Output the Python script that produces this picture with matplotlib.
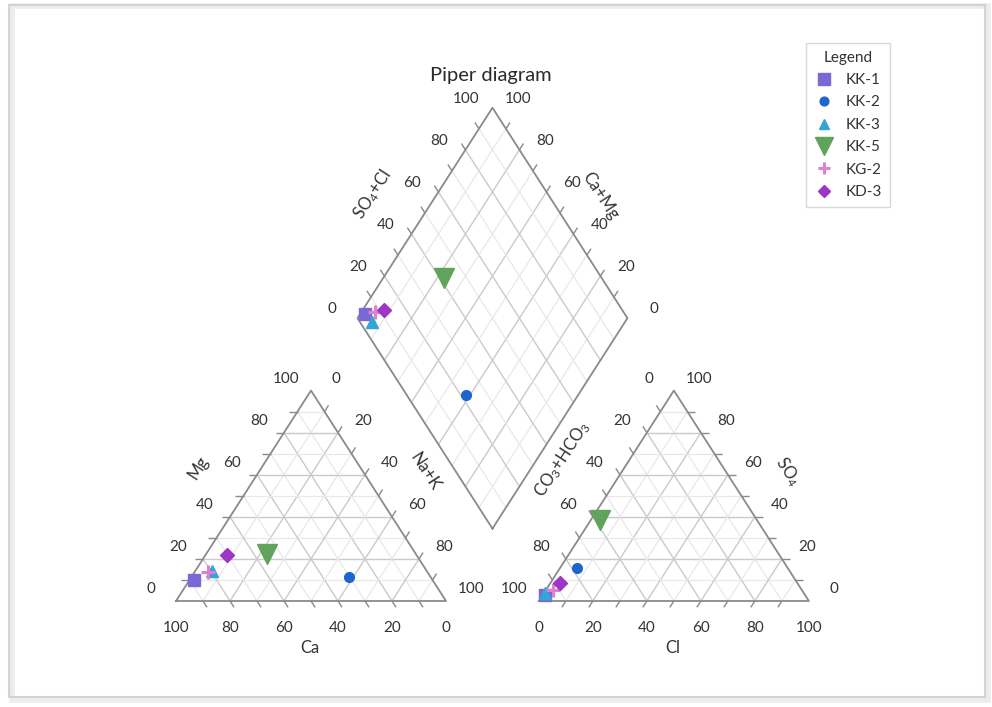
import numpy as np
import matplotlib
matplotlib.use('Agg')
import matplotlib.pyplot as plt
from matplotlib.patches import Rectangle

plt.rcParams['font.family'] = ['Lato', 'DejaVu Sans']
plt.rcParams['mathtext.fontset'] = 'custom'
plt.rcParams['mathtext.rm'] = 'Lato'
plt.rcParams['mathtext.it'] = 'Lato:italic'

# samples (percent of meq)
names = ['KK-1', 'KK-2', 'KK-3', 'KK-5', 'KG-2', 'KD-3']
ca = [88.3, 30.2, 79.6, 55.1, 81.3, 70.2]
mg = [10.0, 11.4, 14.2, 22.3, 13.7, 21.8]
nak = [1.7, 58.4, 6.2, 22.6, 5.0, 8.0]
hco3 = [96.4, 78.1, 95.7, 58.2, 92.2, 88.0]
so4 = [2.8, 15.6, 4.0, 38.4, 5.2, 8.5]
cl = [0.8, 6.3, 0.3, 3.4, 2.6, 3.5]

markers = ['s', 'o', '^', 'v', '+', 'D']
colors = ['#7B68D6', '#1F66CC', '#33A6D6', '#5FA35C', '#E07FD0', '#9E35C4']
sizes = [9, 7, 8, 14, 10, 7]

tick_vals = [0, 20, 40, 60, 80, 100]

H = np.sqrt(3) / 2
GAP = 0.344
BX, BY = 1 + GAP / 2, GAP * H
PXX, PXY = 270.0, 243.0  # pixels per unit


def cat_xy(n, m):
    n, m = np.asarray(n) / 100, np.asarray(m) / 100
    return n + 0.5 * m, H * m


def an_xy(c, s):
    c, s = np.asarray(c) / 100, np.asarray(s) / 100
    return 1 + GAP + c + 0.5 * s, H * s


def dia_xy(cm, sc):
    cm, sc = np.asarray(cm) / 100, np.asarray(sc) / 100
    return BX + 0.5 * (sc - cm), BY + H * (cm + sc)


def px(x, y):
    return (x - 176) / PXX, (601 - y) / PXY


fig = plt.figure(figsize=(9.92, 7.07), dpi=100)
ax = fig.add_axes([0, 0, 1, 1])
ax.set_xlim(-176 / PXX, (992 - 176) / PXX)
ax.set_ylim(-(707 - 601) / PXY, 601 / PXY)
ax.axis('off')

edge_c = '#8A8A8A'
grid_major = '#CACACA'
grid_minor = '#E8E8E8'
lab_c = '#333333'


def seg(p0, p1, **kw):
    ax.plot([p0[0], p1[0]], [p0[1], p1[1]], solid_capstyle='butt', **kw)


def grid_style(v):
    if v % 20 == 0:
        return dict(color=grid_major, lw=1.0, zorder=1)
    return dict(color=grid_minor, lw=0.9, zorder=1)


TL = 0.03
for v in range(10, 100, 10):
    st = grid_style(v)
    # cation triangle
    seg(cat_xy(0, v), cat_xy(100 - v, v), **st)
    seg(cat_xy(v, 0), cat_xy(v, 100 - v), **st)
    seg(cat_xy(100 - v, 0), cat_xy(0, 100 - v), **st)
    # anion triangle
    seg(an_xy(0, v), an_xy(100 - v, v), **st)
    seg(an_xy(v, 0), an_xy(v, 100 - v), **st)
    seg(an_xy(100 - v, 0), an_xy(0, 100 - v), **st)
    # diamond
    seg(dia_xy(v, 0), dia_xy(v, 100), **st)
    seg(dia_xy(0, v), dia_xy(100, v), **st)

    tk = dict(color=edge_c, lw=1.0, zorder=2)
    # ticks cation
    x, y = cat_xy(0, v)
    seg((x, y), (x - TL, y), **tk)
    x, y = cat_xy(v, 100 - v)
    seg((x, y), (x + 0.5 * TL, y + H * TL), **tk)
    x, y = cat_xy(100 - v, 0)
    seg((x, y), (x + 0.5 * TL, y - H * TL), **tk)
    # ticks anion
    x, y = an_xy(0, 100 - v)
    seg((x, y), (x - 0.5 * TL, y + H * TL), **tk)
    x, y = an_xy(100 - v, v)
    seg((x, y), (x + TL, y), **tk)
    x, y = an_xy(v, 0)
    seg((x, y), (x - 0.5 * TL, y - H * TL), **tk)
    # ticks diamond
    x, y = dia_xy(100, v)
    seg((x, y), (x - 0.5 * TL, y + H * TL), **tk)
    x, y = dia_xy(v, 100)
    seg((x, y), (x + 0.5 * TL, y + H * TL), **tk)

# outlines
ol = dict(color=edge_c, lw=1.3, zorder=3)
tri = np.array([cat_xy(0, 0), cat_xy(100, 0), cat_xy(0, 100), cat_xy(0, 0)])
ax.plot(tri[:, 0], tri[:, 1], **ol)
tri = np.array([an_xy(0, 0), an_xy(100, 0), an_xy(0, 100), an_xy(0, 0)])
ax.plot(tri[:, 0], tri[:, 1], **ol)
dia = np.array([dia_xy(0, 0), dia_xy(100, 0), dia_xy(100, 100), dia_xy(0, 100), dia_xy(0, 0)])
ax.plot(dia[:, 0], dia[:, 1], **ol)

# tick labels
fs = 11
ox, oy = 25 / PXX, 12 / PXY
for v in tick_vals:
    t = str(v)
    x, y = cat_xy(0, v)
    ax.text(x - ox, y + oy, t, ha='center', va='center', fontsize=fs, color=lab_c)
    x, y = cat_xy(v, 100 - v)
    ax.text(x + ox, y + oy, t, ha='center', va='center', fontsize=fs, color=lab_c)
    x, y = cat_xy(100 - v, 0)
    ax.text(x, y - 27 / PXY, t, ha='center', va='center', fontsize=fs, color=lab_c)

    x, y = an_xy(0, 100 - v)
    ax.text(x - ox, y + oy, t, ha='center', va='center', fontsize=fs, color=lab_c)
    x, y = an_xy(100 - v, v)
    ax.text(x + ox, y + oy, t, ha='center', va='center', fontsize=fs, color=lab_c)
    x, y = an_xy(v, 0)
    ax.text(x, y - 27 / PXY, t, ha='center', va='center', fontsize=fs, color=lab_c)

    x, y = dia_xy(100, v)
    ax.text(x - 26 / PXX, y + 9 / PXY, t, ha='center', va='center', fontsize=fs, color=lab_c)
    x, y = dia_xy(v, 100)
    ax.text(x + 26 / PXX, y + 9 / PXY, t, ha='center', va='center', fontsize=fs, color=lab_c)

# axis titles
at = dict(ha='center', va='center', fontsize=12, color=lab_c)
ax.text(*px(198, 468), 'Mg', rotation=57, **at)
ax.text(*px(425, 472), 'Na+K', rotation=-57, **at)
ax.text(*px(310, 648), 'Ca', **at)
ax.text(*px(562, 459), r'CO$_3$+HCO$_3$', rotation=57, **at)
ax.text(*px(788, 472), r'SO$_4$', rotation=-57, **at)
ax.text(*px(673, 648), 'Cl', **at)
ax.text(*px(373, 194), r'SO$_4$+Cl', rotation=57, **at)
ax.text(*px(600, 196), 'Ca+Mg', rotation=-57, **at)
ax.text(*px(491, 75), 'Piper diagram', ha='center', va='center', fontsize=14.5, color='#2A2A2A')

# samples
handles = []
for i, name in enumerate(names):
    mk = dict(marker=markers[i], color=colors[i], markersize=sizes[i],
              linestyle='none', zorder=5)
    if markers[i] == '+':
        mk['markeredgewidth'] = 2.2
    cx, cy = cat_xy(nak[i], mg[i])
    h, = ax.plot([cx], [cy], label=name, **mk)
    axx, ayy = an_xy(cl[i], so4[i])
    ax.plot([axx], [ayy], **mk)
    dx, dy = dia_xy(ca[i] + mg[i], so4[i] + cl[i])
    ax.plot([dx], [dy], **mk)
    handles.append(h)

leg = ax.legend(handles=handles, title='Legend', loc='upper left',
                bbox_to_anchor=(806 / 992, 1 - 43 / 707), bbox_transform=fig.transFigure,
                borderaxespad=0, fancybox=False, edgecolor='#D0D0D0', fontsize=11,
                title_fontsize=11, handlelength=1.3, handletextpad=0.8,
                labelspacing=0.55, borderpad=0.5, markerscale=0.9)
leg.get_frame().set_linewidth(1.0)
for t in leg.get_texts():
    t.set_color(lab_c)
leg.get_title().set_color(lab_c)

# outer frame with soft shadow
fig.patches.append(Rectangle((12 / 992, 1 - 700 / 707), 976 / 992, 694 / 707,
                             transform=fig.transFigure, fill=False,
                             edgecolor='#ECECEC', lw=4, zorder=0))
fig.patches.append(Rectangle((9 / 992, 1 - 697 / 707), 976 / 992, 692 / 707,
                             transform=fig.transFigure, fill=False,
                             edgecolor='#D3D3D3', lw=1.5, zorder=0))

fig.savefig('out.png', dpi=100)
